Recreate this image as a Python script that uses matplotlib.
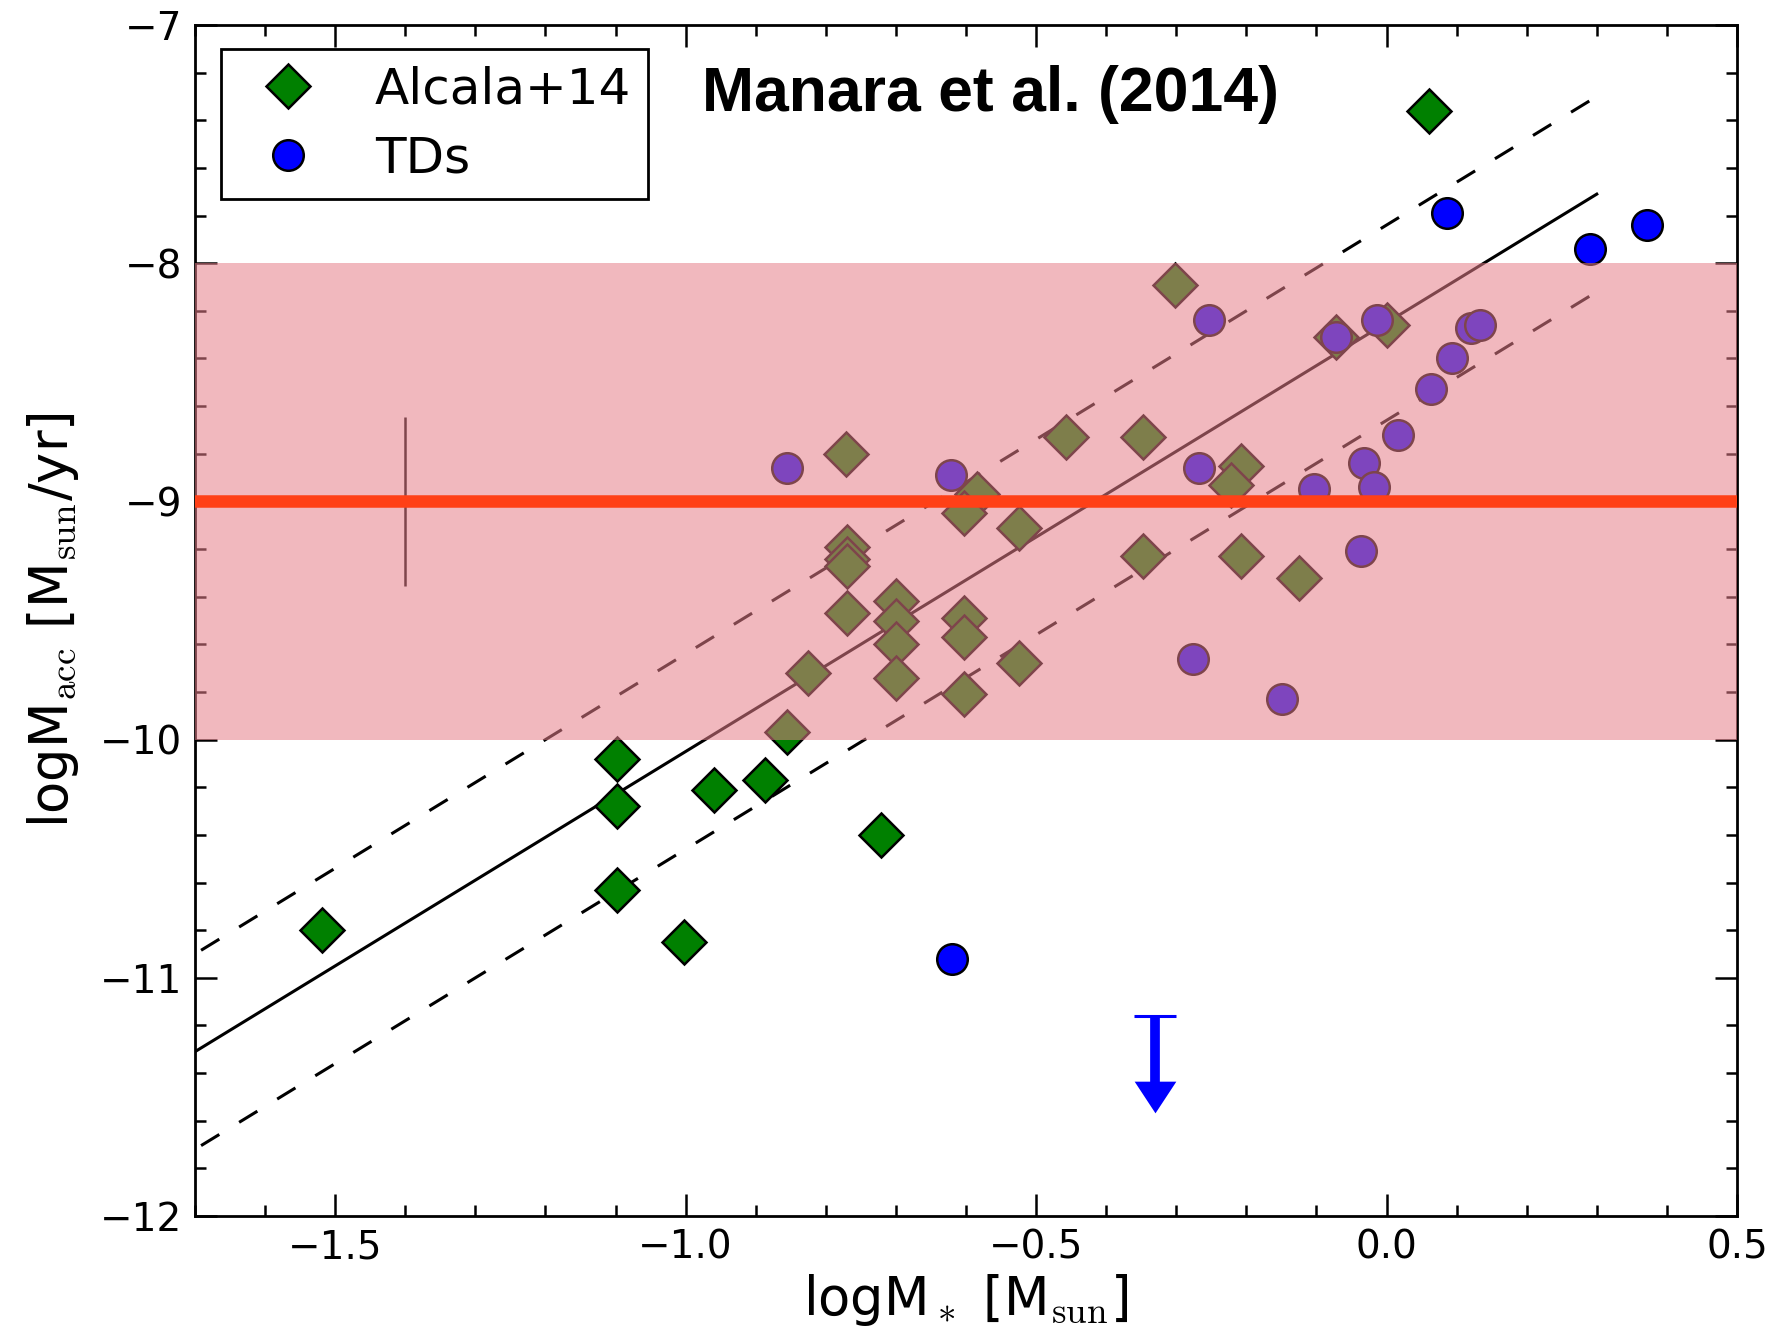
import matplotlib
matplotlib.use('Agg')
import numpy as np
import matplotlib.pyplot as plt
from matplotlib.ticker import MultipleLocator

plt.rcParams['font.family'] = 'DejaVu Sans'
plt.rcParams['mathtext.fontset'] = 'cm'

# Alcala+14 sample (log M*, log Macc)
alc_logm = [-1.519, -1.098, -1.098, -1.098, -1.002, -0.959, -0.887, -0.855,
            -0.721, 0.061, -0.302, -0.072, 0.000, -0.457, -0.348, -0.207,
            -0.222, -0.771, -0.585, -0.603, -0.524, -0.770, -0.770, -0.770,
            -0.348, -0.207, -0.125, -0.700, -0.770, -0.700, -0.603, -0.603,
            -0.700, -0.825, -0.700, -0.524, -0.603]
alc_logacc = [-10.80, -10.08, -10.28, -10.63, -10.85, -10.21, -10.17, -9.97,
              -10.40, -7.36, -8.09, -8.31, -8.26, -8.73, -8.73, -8.85,
              -8.93, -8.80, -8.97, -9.05, -9.11, -9.19, -9.24, -9.27,
              -9.23, -9.23, -9.32, -9.42, -9.47, -9.50, -9.49, -9.57,
              -9.60, -9.72, -9.74, -9.68, -9.81]

# transition discs
td_logm = [0.086, 0.290, 0.371, -0.620, -0.855, -0.621, -0.253, -0.072,
           -0.014, 0.120, 0.133, 0.093, 0.064, 0.016, -0.032, -0.018,
           -0.104, -0.268, -0.037, -0.276, -0.149]
td_logacc = [-7.79, -7.94, -7.84, -10.92, -8.86, -8.89, -8.24, -8.31,
             -8.24, -8.27, -8.26, -8.40, -8.53, -8.72, -8.84, -8.94,
             -8.95, -8.86, -9.21, -9.66, -9.83]

# TD upper limit
ul_logm = [-0.33]
ul_logacc = [-11.16]
ul_len = 0.34

# relation from the fit and its spread
fit_range = [-1.8, 0.30]
fit_slope = 1.8
fit_icpt = -8.25
fit_spread = 0.41

# shaded range and reference rate
band_lo, band_hi = -10.0, -8.0
ref_logacc = -9.0
err_logm, err_logacc, err_size = -1.40, -9.0, 0.355

fig = plt.figure(figsize=(17.78, 13.37), dpi=100)
ax = fig.add_axes([0.1097, 0.0905, 0.8672, 0.8908])

xx = np.array(fit_range)
yy = fit_slope * xx + fit_icpt
dash = (0, (7.0, 7.6))
ax.plot(xx, yy, color='k', lw=2.2, zorder=1)
ax.plot(xx, yy + fit_spread, color='k', lw=2.2, ls=dash, zorder=1)
ax.plot(xx, yy - fit_spread, color='k', lw=2.2, ls=dash, zorder=1)

ax.errorbar([err_logm], [err_logacc], yerr=[err_size], fmt='none',
            ecolor='k', elinewidth=1.8, capsize=0, zorder=1)

ax.plot(alc_logm, alc_logacc, 'D', color='green', mec='k', mew=1.8, ms=22.5,
        ls='none', label='Alcala+14', zorder=2)
ax.plot(td_logm, td_logacc, 'o', color='blue', mec='k', mew=1.8, ms=22,
        ls='none', label='TDs', zorder=3)

ax.axhspan(band_lo, band_hi, color=(231/255, 126/255, 138/255), alpha=0.55,
           lw=0, zorder=4)
ax.axhline(ref_logacc, color='#FF4017', lw=9, zorder=5)

# upper limit arrow
head = [(-1, 0.76), (1, 0.76), (0, -0.76), (-1, 0.76)]
for x, y in zip(ul_logm, ul_logacc):
    ax.plot([x, x], [y, y - ul_len + 0.05], color='blue', lw=7,
            solid_capstyle='butt', zorder=3)
    ax.plot([x], [y], marker='_', ms=30, mew=2.2, color='blue', zorder=3)
    ax.plot([x], [y - ul_len], marker=head, ms=30, color='blue', mew=0,
            zorder=3)

ax.set_xlim(-1.7, 0.5)
ax.set_ylim(-12, -7)
ax.xaxis.set_major_locator(MultipleLocator(0.5))
ax.xaxis.set_minor_locator(MultipleLocator(0.1))
ax.yaxis.set_major_locator(MultipleLocator(1))
ax.yaxis.set_minor_locator(MultipleLocator(0.2))
ax.tick_params(which='both', direction='in', top=True, right=True, width=1.8)
ax.tick_params(which='major', length=16, labelsize=28, pad=9)
ax.tick_params(which='minor', length=8)
for s in ax.spines.values():
    s.set_linewidth(2)

ax.set_xlabel('logM$_*$ [M$_{\\rm sun}$]', fontsize=38, labelpad=4)
ax.set_ylabel('logM$_{\\rm acc}$ [M$_{\\rm sun}$/yr]', fontsize=38, labelpad=14)

ax.text(0.329, 0.942, 'Manara et al. (2014)', transform=ax.transAxes,
        fontsize=45, fontweight='bold', family='Liberation Sans',
        ha='left', va='center')

leg = ax.legend(loc='upper left', bbox_to_anchor=(0.0169, 0.980),
                borderaxespad=0, numpoints=1, fontsize=36, handlelength=2.0,
                handletextpad=0.75, borderpad=0.33, labelspacing=0.42,
                fancybox=False, edgecolor='k', framealpha=1)
leg.get_frame().set_linewidth(2)
leg.set_zorder(10)

fig.savefig('out.png', dpi=100)
